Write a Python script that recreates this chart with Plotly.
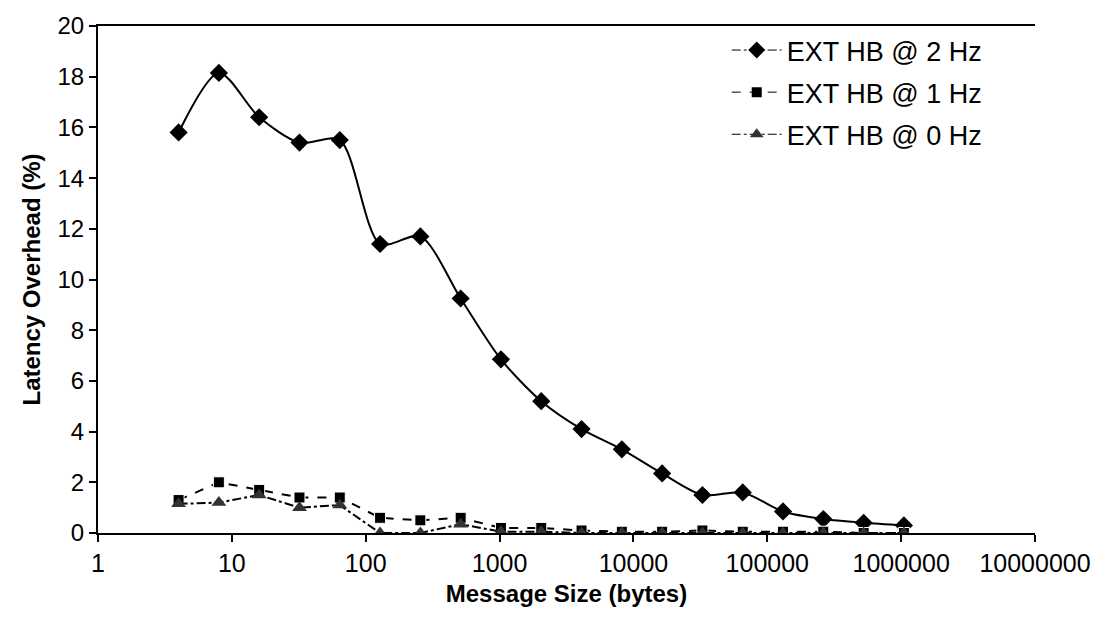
import plotly.graph_objects as go

msg_size = [4, 8, 16, 32, 64, 128, 256, 512, 1024, 2048, 4096, 8192, 16384,
            32768, 65536, 131072, 262144, 524288, 1048576]
hb_2hz = [15.8, 18.15, 16.4, 15.4, 15.5, 11.4, 11.7, 9.25, 6.85, 5.2, 4.1, 3.3,
          2.35, 1.5, 1.6, 0.85, 0.55, 0.4, 0.3]
hb_1hz = [1.3, 2.0, 1.7, 1.4, 1.4, 0.6, 0.5, 0.6, 0.2, 0.2, 0.1, 0.05, 0.05,
          0.1, 0.05, 0.05, 0.05, 0.0, 0.0]
hb_0hz = [1.15, 1.2, 1.5, 1.0, 1.1, 0.0, 0.0, 0.35, 0.05, 0.05, 0.0, 0.0, 0.0,
          0.0, 0.0, 0.0, 0.0, 0.0, 0.0]
x_tickvals = [1, 10, 100, 1000, 10000, 100000, 1000000, 10000000]
x_ticktext = ["1", "10", "100", "1000", "10000", "100000", "1000000", "10000000"]
y_tickvals = [0, 2, 4, 6, 8, 10, 12, 14, 16, 18, 20]

fig = go.Figure()

# 2 Hz: smoothed solid line in plot, dash-dot in legend
fig.add_trace(go.Scatter(
    x=msg_size, y=hb_2hz, mode="lines+markers", showlegend=False,
    line=dict(color="black", width=2, shape="spline", smoothing=0.8),
    marker=dict(symbol="diamond", size=14, color="black")))
fig.add_trace(go.Scatter(
    x=msg_size, y=hb_1hz, mode="lines+markers", showlegend=False,
    line=dict(color="black", width=2, dash="dash"),
    marker=dict(symbol="square", size=11, color="black",
                line=dict(color="white", width=1))))
fig.add_trace(go.Scatter(
    x=msg_size, y=hb_0hz, mode="lines+markers", showlegend=False,
    line=dict(color="black", width=2, dash="dashdot"),
    marker=dict(symbol="triangle-up", size=13, color="#333333")))

# legend entries
fig.add_trace(go.Scatter(
    x=[None], y=[None], mode="lines+markers", name="EXT HB @ 2 Hz",
    legendgroup="a",
    line=dict(color="black", width=1, dash="dashdot"),
    marker=dict(symbol="diamond", size=13, color="black")))
fig.add_trace(go.Scatter(
    x=[None], y=[None], mode="lines+markers", name="EXT HB @ 1 Hz",
    legendgroup="b",
    line=dict(color="black", width=1, dash="dash"),
    marker=dict(symbol="square", size=10, color="black")))
fig.add_trace(go.Scatter(
    x=[None], y=[None], mode="lines+markers", name="EXT HB @ 0 Hz",
    legendgroup="c",
    line=dict(color="black", width=1, dash="dashdot"),
    marker=dict(symbol="triangle-up", size=12, color="#333333")))

font = "Liberation Sans, Arial, sans-serif"
fig.update_layout(
    width=1105, height=626,
    margin=dict(l=98, r=70, t=19, b=93),
    plot_bgcolor="white", paper_bgcolor="white",
    font=dict(family=font, size=24, color="black"),
    showlegend=True,
    legend=dict(x=0.671, y=1.0, xanchor="left", yanchor="top",
                bgcolor="rgba(0,0,0,0)", font=dict(size=27),
                itemwidth=50, tracegroupgap=4, traceorder="grouped"),
    xaxis=dict(type="log", range=[0, 7], tickvals=x_tickvals, ticktext=x_ticktext,
               showgrid=False, zeroline=False, showline=True, linecolor="black",
               linewidth=2, mirror=True, ticks="outside", ticklen=7, tickwidth=2,
               tickcolor="black", tickfont=dict(size=25),
               title=dict(text="<b>Message Size (bytes)</b>", font=dict(size=24),
                          standoff=9)),
    yaxis=dict(range=[0, 20], tickvals=y_tickvals,
               showgrid=False, zeroline=False, showline=True, linecolor="black",
               linewidth=2, ticks="outside", ticklen=7, tickwidth=2,
               tickcolor="black", tickfont=dict(size=24),
               title=dict(text="<b>Latency Overhead (%)</b>", font=dict(size=24),
                          standoff=10)),
)

fig.write_html("out.html")
